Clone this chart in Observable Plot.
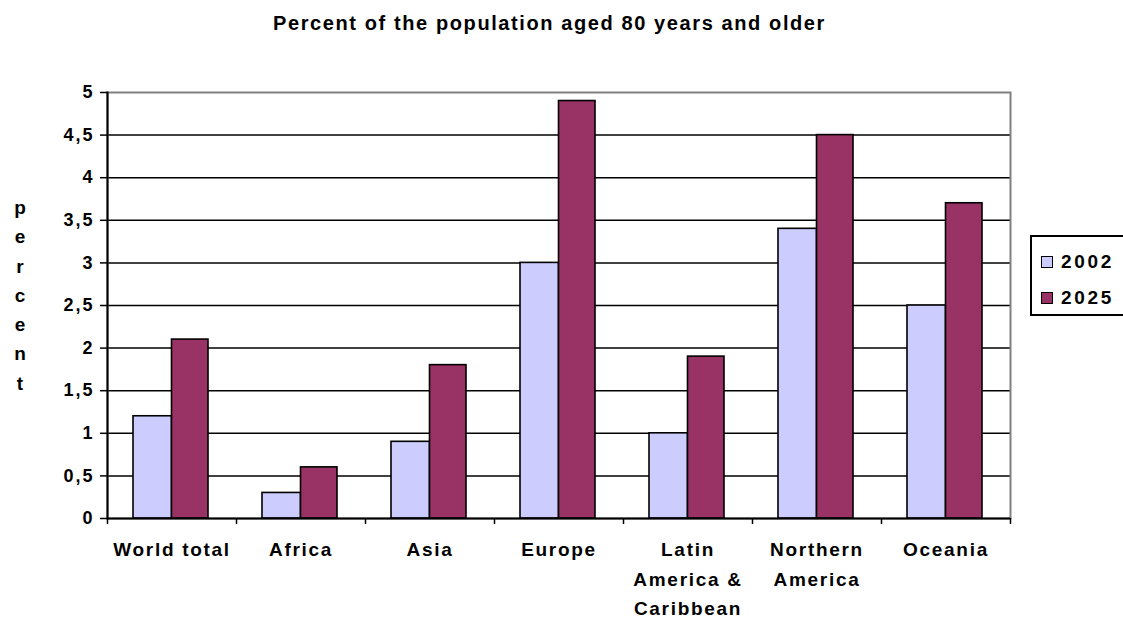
<!DOCTYPE html>
<html><head><meta charset="utf-8">
<script src="https://cdn.jsdelivr.net/npm/d3@7"></script>
<script src="https://cdn.jsdelivr.net/npm/@observablehq/plot@0.6"></script>
<style>
body{margin:0;background:#fff;font-family:"Liberation Sans",Arial,sans-serif;}
#wrap{position:relative;width:1123px;height:619px;overflow:hidden;background:#fff}
#title{position:absolute;left:0;width:1099px;top:12px;text-align:center;font-weight:bold;font-size:20px;letter-spacing:1.6px;color:#000}
#ylab{position:absolute;left:5px;width:30px;top:193px;text-align:center;font-weight:bold;font-size:19px;line-height:29.3px;color:#000}
#legend{position:absolute;left:1030px;top:235px;width:95px;height:81px;border:2px solid #000;box-sizing:border-box;}
.item{position:absolute;left:9px;height:20px;display:flex;align-items:center;font-weight:bold;font-size:19px;letter-spacing:2.7px;color:#000}
.sw{width:12px;height:12px;border:1px solid #000;box-sizing:border-box;margin-right:8px}
#chart{position:absolute;left:0;top:0}
</style></head>
<body><div id="wrap">
<div id="chart"></div>
<div id="title"></div>
<div id="ylab"></div>
<div id="legend"></div>
</div>
<script>
const regions = ["World total","Africa","Asia","Europe","Latin\nAmerica &\nCaribbean","Northern\nAmerica","Oceania"];
const values2002 = [1.2,0.3,0.9,3.0,1.0,3.4,2.5];
const values2025 = [2.1,0.6,1.8,4.9,1.9,4.5,3.7];
const years = ["2002","2025"];
const colors = ["#CCCCFF","#993366"];
const yTicks = [0,0.5,1,1.5,2,2.5,3,3.5,4,4.5,5];
const yLabel = "percent";
const titleText = "Percent of the population aged 80 years and older";

const d2002 = regions.map((r,i)=>({region:r, value:values2002[i]}));
const d2025 = regions.map((r,i)=>({region:r, value:values2025[i]}));
const half = (1010-107)/7/2;

const chart = Plot.plot({
  width:1123, height:619,
  marginLeft:107, marginRight:113, marginTop:92, marginBottom:101,
  style:{fontFamily:'"Liberation Sans", Arial, sans-serif', background:"transparent", color:"#000"},
  x:{domain:regions, padding:0, label:null},
  y:{domain:[0,5], label:null},
  marks:[
    Plot.ruleY(yTicks.slice(1,-1), {stroke:"#000", strokeWidth:1.5}),
    Plot.frame({stroke:"#808080", strokeWidth:2}),
    Plot.barY(d2002, {x:"region", y:"value", fill:colors[0], stroke:"#000", strokeWidth:1.6, insetLeft:26, insetRight:half*2-64.5}),
    Plot.barY(d2025, {x:"region", y:"value", fill:colors[1], stroke:"#000", strokeWidth:1.6, insetLeft:64.5, insetRight:half*2-101}),
    Plot.ruleY([0], {stroke:"#000", strokeWidth:2}),
    Plot.frame({anchor:"left", stroke:"#000", strokeWidth:2}),
    Plot.axisY({ticks:yTicks, tickSize:7, tickPadding:6, tickFormat:d=>String(d).replace(".",","), fontSize:18, fontWeight:"bold", stroke:"#000", strokeWidth:1.5}),
    Plot.axisX({tickSize:0, tickPadding:17, fontSize:19, fontWeight:"bold", lineHeight:1.55}),
    Plot.axisX({tickSize:6, tickFormat:()=>"", dx:-half, stroke:"#000", strokeWidth:1.5}),
    Plot.axisX({ticks:[regions[6]], tickSize:6, tickFormat:()=>"", dx:half, stroke:"#000", strokeWidth:1.5})
  ]
});
chart.querySelectorAll('[aria-label="x-axis tick label"] text').forEach(t=>t.setAttribute("letter-spacing","1.7"));
chart.querySelectorAll('[aria-label="y-axis tick label"] text').forEach(t=>t.setAttribute("letter-spacing","2"));
document.getElementById("chart").appendChild(chart);
document.getElementById("title").textContent = titleText;
document.getElementById("ylab").innerHTML = yLabel.split("").map(c=>`<div>${c}</div>`).join("");
const lg = document.getElementById("legend");
years.forEach((y,i)=>{
  const it = document.createElement("div");
  it.className="item"; it.style.top = (i===0?15:51)+"px";
  it.innerHTML = `<span class="sw" style="background:${colors[i]}"></span><span>${y}</span>`;
  lg.appendChild(it);
});
</script>
</body></html>
